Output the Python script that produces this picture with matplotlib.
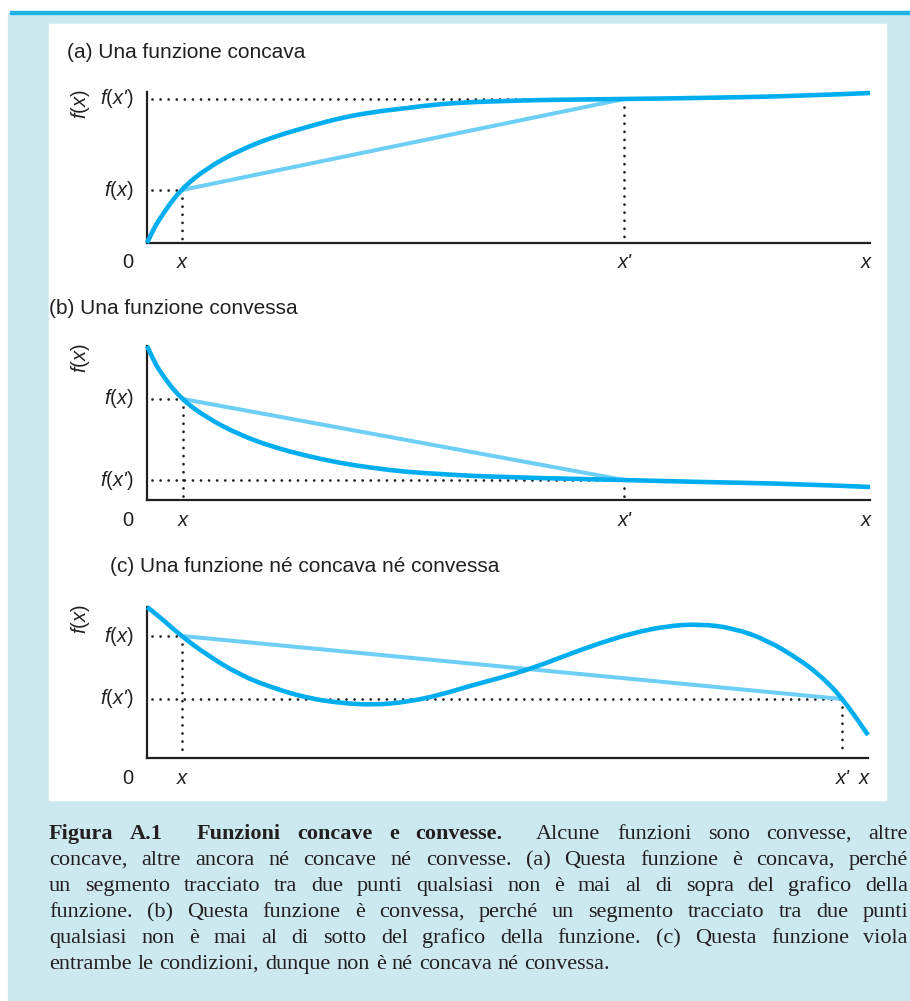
import re
import matplotlib
matplotlib.use('Agg')
import matplotlib.pyplot as plt
from matplotlib.patches import Rectangle, PathPatch
from matplotlib.path import Path

plt.rcParams['mathtext.fontset'] = 'custom'
plt.rcParams['mathtext.rm'] = 'Liberation Sans'
plt.rcParams['mathtext.it'] = 'Liberation Sans:italic'
plt.rcParams['font.family'] = 'Liberation Sans'

# curve data (x, y), units = pixels from the origin of each panel
conc_x = [0, 5, 13, 33, 60, 93, 126, 160, 193, 226, 260, 293, 326, 360, 390, 477, 553, 653, 723]
conc_y = [0, 11, 25, 53, 75, 93, 106, 116, 125, 131, 135, 139, 141, 142, 143, 144, 145, 147, 150]
conv_x = [0, 5, 13, 33, 60, 93, 126, 160, 193, 226, 260, 293, 326, 360, 390, 477, 553, 653, 723]
conv_y = [154, 143, 128, 102, 82, 65, 53, 44, 37, 32, 28, 26, 24, 23, 22, 20, 18, 16, 13]
misto_x = [0, 13, 33, 60, 93, 126, 160, 193, 226, 260, 293, 326, 353, 386, 420, 453, 486,
           520, 553, 586, 620, 653, 670, 686, 696, 708, 721]
misto_y = [151, 141, 123, 103, 83, 70, 60, 55, 53, 56, 63, 73, 80, 90, 103, 115, 125,
           132, 134, 130, 118, 98, 85, 70, 58, 42, 23]

# punti x e x' con i valori f(x), f(x')
pannelli = [
    dict(titolo='(a) Una funzione concava', cx=conc_x, cy=conc_y,
         x1=35, f1=53, x2=477, f2=144, xmax=723, ymax=151, orig=243, tx=67, ty=52),
    dict(titolo='(b) Una funzione convessa', cx=conv_x, cy=conv_y,
         x1=36, f1=101, x2=477, f2=20, xmax=723, ymax=154, orig=500, tx=49, ty=309),
    dict(titolo='(c) Una funzione né concava né convessa', cx=misto_x, cy=misto_y,
         x1=35, f1=122, x2=695, f2=59, xmax=721, ymax=151, orig=758, tx=110, ty=566),
]

didascalia = [
    '**Figura A.1  Funzioni concave e convesse.**  Alcune funzioni sono convesse, altre',
    'concave, altre ancora né concave né convesse. (a) Questa funzione è concava, perché',
    'un segmento tracciato tra due punti qualsiasi non è mai al di sopra del grafico della',
    'funzione. (b) Questa funzione è convessa, perché un segmento tracciato tra due punti',
    'qualsiasi non è mai al di sotto del grafico della funzione. (c) Questa funzione viola',
    'entrambe le condizioni, dunque non è né concava né convessa.',
]

W, H = 910, 1001
fondo = '#cde9f0'
blu = '#00aeef'
celeste = '#6dcff6'
nero = '#231f20'

fig = plt.figure(figsize=(W / 100, H / 100), dpi=100, facecolor='white')

def fxy(px, py):
    return px / W, 1 - py / H

def curva_liscia(xs, ys):
    # punti letti usati come controlli di una curva quadratica
    pts = list(zip(xs, ys))
    verts = [pts[0]]
    codes = [Path.MOVETO]
    for i in range(1, len(pts) - 1):
        if i < len(pts) - 2:
            fine = ((pts[i][0] + pts[i + 1][0]) / 2, (pts[i][1] + pts[i + 1][1]) / 2)
        else:
            fine = pts[-1]
        verts += [pts[i], fine]
        codes += [Path.CURVE3, Path.CURVE3]
    return Path(verts, codes)

fig.add_artist(Rectangle(fxy(8, H), (W - 8) / W, (H - 13) / H, transform=fig.transFigure,
                         color=fondo, zorder=0))
fig.add_artist(Rectangle(fxy(10, 13.5), (W - 10) / W, 2.5 / H, transform=fig.transFigure,
                         color='#22b4e8', zorder=0))
fig.add_artist(Rectangle(fxy(49, 800), (886 - 49) / W, (800 - 24) / H, transform=fig.transFigure,
                         color='white', zorder=0))

punti = dict(linestyle=(0, (0.01, 2.9)), lw=2.0, color=nero, dash_capstyle='round',
             clip_on=False, zorder=2)

for p in pannelli:
    x0, y0 = fxy(147, p['orig'])
    ax = fig.add_axes([x0, y0, p['xmax'] / W, p['ymax'] / H])
    ax.set_xlim(0, p['xmax'])
    ax.set_ylim(0, p['ymax'])
    ax.patch.set_alpha(0)
    for s in ['top', 'right']:
        ax.spines[s].set_visible(False)
    for s in ['left', 'bottom']:
        ax.spines[s].set_linewidth(1.6)
        ax.spines[s].set_color(nero)
    ax.set_xticks([])
    ax.set_yticks([])

    x1, f1, x2, f2 = p['x1'], p['f1'], p['x2'], p['f2']
    ax.plot([5, x1], [f1, f1], **punti)
    ax.plot([5, x2], [f2, f2], **punti)
    ax.plot([x1, x1], [f1, 3], **punti)
    ax.plot([x2, x2], [f2, 3], **punti)

    ax.plot([x1, x2], [f1, f2], color=celeste, lw=2.9, solid_capstyle='butt',
            clip_on=False, zorder=3)
    ax.add_patch(PathPatch(curva_liscia(p['cx'], p['cy']), fill=False, edgecolor=blu,
                           lw=3.3, capstyle='butt', joinstyle='round', clip_on=False, zorder=4))

    lab = dict(fontsize=14.5, color=nero, textcoords='offset pixels', annotation_clip=False)
    ax.annotate('0', xy=(0, 0), xytext=(-19, -20), ha='center', va='center', **lab)
    ax.annotate('x', xy=(x1, 0), xytext=(0, -20), ha='center', va='center',
                style='italic', **lab)
    ax.annotate("x'", xy=(x2, 0), xytext=(1, -20), ha='center', va='center',
                style='italic', **lab)
    ax.annotate('x', xy=(p['xmax'], 0), xytext=(-4, -20), ha='center', va='center',
                style='italic', **lab)
    for f, s in [(f1, '$f(x)$'), (f2, "$f(x$'$)$")]:
        ax.annotate(s, xy=(0, f), xytext=(-13, 0), ha='right', va='center',
                    style='italic', **lab)
    ax.annotate('$f(x)$', xy=(0, p['ymax']), xytext=(-67, -12), ha='center', va='center',
                rotation=90, **lab)

    fig.text(*fxy(p['tx'], p['ty']), p['titolo'], fontsize=15, color=nero,
             ha='left', va='center')

# didascalia giustificata
r = fig.canvas.get_renderer()
sin, des = 49, 908
for i, riga in enumerate(didascalia):
    parole = []
    for k, seg in enumerate(riga.split('**')):
        for sp, w in re.findall(r'(\s*)(\S+)', seg):
            parole.append((w, k % 2 == 1, len(sp) if parole else 0))
    base = 839 + i * 26
    testi = []
    for w, b, g in parole:
        t = fig.text(0, 1 - base / H, w, fontsize=16, family='Liberation Serif',
                     fontweight='bold' if b else 'normal', color=nero,
                     ha='left', va='baseline')
        testi.append((t, t.get_window_extent(r).width, g))
    tot = sum(wd for _, wd, _ in testi)
    pesi = sum(g for _, _, g in testi)
    if i == len(didascalia) - 1:
        gap = 6.0
    else:
        gap = (des - sin - tot) / pesi
    x = sin
    for t, wd, g in testi:
        x += g * gap
        t.set_x(x / W)
        x += wd

fig.savefig('out.png', dpi=100, facecolor='white')
